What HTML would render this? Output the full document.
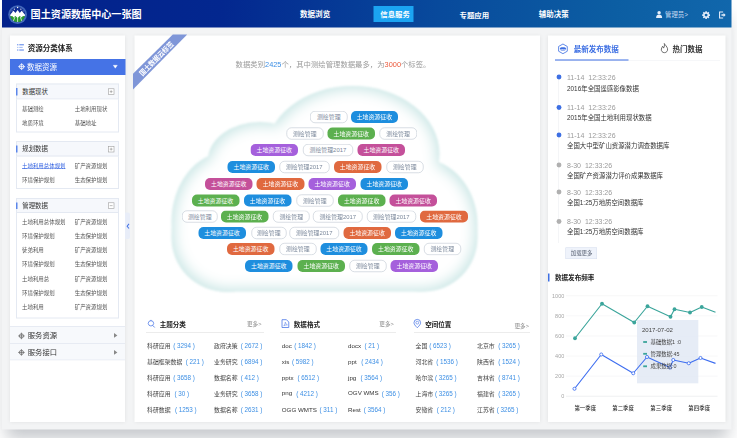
<!DOCTYPE html>
<html lang="zh-CN">
<head>
<meta charset="utf-8">
<title>国土资源数据中心一张图</title>
<style>
html,body{margin:0;padding:0;}
body{width:737px;height:438px;overflow:hidden;background:#fff;position:relative;font-family:"Liberation Sans", "Noto Sans CJK SC", sans-serif;-webkit-text-size-adjust:none;}
.b{position:absolute;box-sizing:border-box;}
.t{position:absolute;white-space:nowrap;display:block;}
svg{position:absolute;overflow:visible;}
#wrap{position:absolute;left:0;top:0;width:1474px;height:876px;transform:scale(0.5);transform-origin:0 0;}
#root{position:absolute;left:0;top:0;width:737px;height:438px;zoom:2;}

.page{background:#f3f4f5;box-shadow:0 13px 16px -4px rgba(40,50,65,.27);}
.hdr{background:linear-gradient(94deg,#03218b 0%,#03278f 30%,#084a9c 60%,#0c5ea3 84%,#1167ac 100%);}
.panel{background:#fff;box-shadow:0 0 4px rgba(0,0,0,.08);}
.tag{position:absolute;box-sizing:border-box;height:12px;line-height:12px;border-radius:5px;font-size:5.9px;color:#fff;text-align:center;white-space:nowrap;}
.tag.o{background:#fff;border:0.5px solid #b3bcc9;color:#7b889b;line-height:11px;}

</style>
</head>
<body>
<div id="wrap"><div id="root">
<div class="b page" style="left:2.00px;top:0.00px;width:729.70px;height:429.50px;"></div><div class="b hdr" style="left:2.00px;top:0.00px;width:729.70px;height:27.50px;"></div><svg style="left:7.9px;top:5px" width="19.2" height="19.2" viewBox="0 0 40 40">
<defs><clipPath id="lc"><circle cx="20" cy="20" r="15.6"/></clipPath></defs>
<circle cx="20" cy="20" r="19.6" fill="#4468ba"/>
<circle cx="20" cy="20" r="15.6" fill="#102c93"/>
<g clip-path="url(#lc)">
<rect x="0" y="21" width="40" height="20" fill="#2b9b2d"/>
<path d="M2 23.5 L11.5 12 L15.5 16.5 L20 10.2 L24.5 16.5 L28.5 12 L38 23.5 L31 23 L28.5 26 L24.5 23 L20 27 L15.5 23 L11.5 26 L9 23 Z" fill="#fff"/>
<path d="M8.5 40 L14.5 25 M20 40 L20 26 M31.5 40 L25.5 25" stroke="#fff" stroke-width="1.5"/>
</g>
<g fill="#fff"><circle cx="20" cy="5.2" r="1.5"/><circle cx="13.2" cy="8.6" r="1.15"/><circle cx="26.8" cy="8.6" r="1.15"/><circle cx="8.6" cy="12.6" r="1"/><circle cx="31.4" cy="12.6" r="1"/></g>
</svg><span class="t " style="top:6.52px;height:16.16px;line-height:16.16px;font-size:10.1px;color:#fff;font-weight:700;left:30.60px;">国土资源数据中心一张图</span><span class="t " style="top:8.46px;height:12.08px;line-height:12.08px;font-size:7.55px;color:#fff;font-weight:700;left:300.00px;">数据浏览</span><div class="b " style="left:373.40px;top:6.00px;width:40.20px;height:16.00px;background:#1ba4f2;"></div><span class="t " style="top:8.98px;height:11.84px;line-height:11.84px;font-size:7.4px;color:#fff;font-weight:700;left:380.30px;">信息服务</span><span class="t " style="top:9.38px;height:11.84px;line-height:11.84px;font-size:7.4px;color:#fff;font-weight:700;left:459.50px;">专题应用</span><span class="t " style="top:9.04px;height:11.92px;line-height:11.92px;font-size:7.45px;color:#fff;font-weight:700;left:538.80px;">辅助决策</span><svg style="left:655.8px;top:11px" width="6.2" height="7" viewBox="0 0 12 14"><circle cx="6" cy="3.6" r="3.4" fill="#e6eefa"/><path d="M0 14 C0 8.5 2.5 7.6 6 7.6 C9.5 7.6 12 8.5 12 14 Z" fill="#e6eefa"/></svg><span class="t " style="top:9.68px;height:10.24px;line-height:10.24px;font-size:6.4px;color:#c9daf2;left:665.00px;">管理员&gt;</span><svg style="left:702px;top:10.9px" width="8.2" height="8.2" viewBox="0 0 24 24"><g fill="#e6eefa"><circle cx="12" cy="12" r="8"/><g id="gt"><rect x="9.6" y="0.5" width="4.8" height="23" rx="1"/></g><rect x="9.6" y="0.5" width="4.8" height="23" rx="1" transform="rotate(45 12 12)"/><rect x="9.6" y="0.5" width="4.8" height="23" rx="1" transform="rotate(90 12 12)"/><rect x="9.6" y="0.5" width="4.8" height="23" rx="1" transform="rotate(135 12 12)"/></g><circle cx="12" cy="12" r="4.3" fill="#1064aa"/></svg><svg style="left:718.8px;top:11.4px" width="6.8" height="7" viewBox="0 0 14 14"><path d="M8.5 1 H1.2 V13 H8.5" fill="none" stroke="#e6eefa" stroke-width="2.2"/><path d="M5 5.6 H9.5 V3 L13.6 7 L9.5 11 V8.4 H5 Z" fill="#e6eefa"/></svg><div class="b panel" style="left:10.00px;top:35.50px;width:115.00px;height:386.50px;"></div><svg style="left:17px;top:44.2px" width="7" height="6.8" viewBox="0 0 14 14"><g fill="#5b86ea"><rect x="0" y="0.5" width="2.6" height="2.2"/><rect x="4.5" y="0.5" width="9.5" height="2.2"/><rect x="0" y="5.9" width="2.6" height="2.2" opacity=".55"/><rect x="4.5" y="5.9" width="7" height="2.2" opacity=".55"/><rect x="0" y="11.3" width="2.6" height="2.2"/><rect x="4.5" y="11.3" width="9.5" height="2.2"/></g></svg><span class="t " style="top:42.60px;height:12.0px;line-height:12.0px;font-size:7.5px;color:#222;font-weight:700;left:27.80px;">资源分类体系</span><div class="b " style="left:10.00px;top:58.80px;width:115.30px;height:16.00px;background:#4573e6;"></div><svg style="left:17.9px;top:63.2px" width="7.3" height="7.3" viewBox="0 0 14 14"><circle cx="7" cy="7" r="4.3" fill="none" stroke="#fff" stroke-width="1.5"/><path d="M7 0.4 V13.6 M0.4 7 H13.6" fill="none" stroke="#fff" stroke-width="1.5"/></svg><span class="t " style="top:61.60px;height:12.0px;line-height:12.0px;font-size:7.5px;color:#fff;left:27.00px;">数据资源</span><svg style="left:113px;top:65.2px" width="4.6" height="3.4" viewBox="0 0 10 7"><path d="M0.6 0.4 H9.4 L5 6.8 Z" fill="#fff" stroke="#fff" stroke-width="0.8" stroke-linejoin="round"/></svg><div class="b " style="left:16.00px;top:83.50px;width:103.00px;height:49.00px;border:1px solid #e4e9f2;background:#fff;"></div><div class="b " style="left:16.00px;top:83.50px;width:103.00px;height:16.00px;border:1px solid #e4e9f2;background:#f6f8fc;"></div><div class="b " style="left:16.00px;top:88.00px;width:1.30px;height:7.50px;background:#5b86ea;"></div><span class="t " style="top:86.68px;height:10.24px;line-height:10.24px;font-size:6.4px;color:#333;left:22.30px;">数据现状</span><svg style="left:108.2px;top:88.60px" width="6.3" height="6.3" viewBox="0 0 11 11"><rect x="0.5" y="0.5" width="10" height="10" fill="#fff" stroke="#999" stroke-width="1"/><path d="M3 5.5 H8 M5.5 3 V8" stroke="#888" stroke-width="1" fill="none"/></svg><span class="t " style="top:104.74px;height:8.72px;line-height:8.72px;font-size:5.45px;color:#555;left:22.00px;">基础测绘</span><span class="t " style="top:104.74px;height:8.72px;line-height:8.72px;font-size:5.45px;color:#555;left:74.70px;">土地利用现状</span><span class="t " style="top:118.74px;height:8.72px;line-height:8.72px;font-size:5.45px;color:#555;left:22.00px;">地质环境</span><span class="t " style="top:118.74px;height:8.72px;line-height:8.72px;font-size:5.45px;color:#555;left:74.70px;">基础地址</span><div class="b " style="left:16.00px;top:141.00px;width:103.00px;height:48.00px;border:1px solid #e4e9f2;background:#fff;"></div><div class="b " style="left:16.00px;top:141.00px;width:103.00px;height:15.50px;border:1px solid #e4e9f2;background:#f6f8fc;"></div><div class="b " style="left:16.00px;top:145.50px;width:1.30px;height:7.00px;background:#5b86ea;"></div><span class="t " style="top:143.93px;height:10.24px;line-height:10.24px;font-size:6.4px;color:#333;left:22.30px;">规划数据</span><svg style="left:108.2px;top:145.85px" width="6.3" height="6.3" viewBox="0 0 11 11"><rect x="0.5" y="0.5" width="10" height="10" fill="#fff" stroke="#999" stroke-width="1"/><path d="M3 5.5 H8 M5.5 3 V8" stroke="#888" stroke-width="1" fill="none"/></svg><span class="t " style="top:161.44px;height:8.72px;line-height:8.72px;font-size:5.45px;color:#2f5fe0;left:22.00px;text-decoration:underline;text-decoration-thickness:0.5px;text-underline-offset:1px;">土地利用总体规划</span><span class="t " style="top:161.44px;height:8.72px;line-height:8.72px;font-size:5.45px;color:#555;left:74.70px;">矿产资源规划</span><span class="t " style="top:175.64px;height:8.72px;line-height:8.72px;font-size:5.45px;color:#555;left:22.00px;">环境保护规划</span><span class="t " style="top:175.64px;height:8.72px;line-height:8.72px;font-size:5.45px;color:#555;left:74.70px;">生态保护规划</span><div class="b " style="left:16.00px;top:198.00px;width:103.00px;height:120.50px;border:1px solid #e4e9f2;background:#fff;"></div><div class="b " style="left:16.00px;top:198.00px;width:103.00px;height:15.00px;border:1px solid #e4e9f2;background:#f6f8fc;"></div><div class="b " style="left:16.00px;top:202.50px;width:1.30px;height:6.50px;background:#5b86ea;"></div><span class="t " style="top:200.68px;height:10.24px;line-height:10.24px;font-size:6.4px;color:#333;left:22.30px;">管理数据</span><svg style="left:108.2px;top:202.60px" width="6.3" height="6.3" viewBox="0 0 11 11"><rect x="0.5" y="0.5" width="10" height="10" fill="#fff" stroke="#999" stroke-width="1"/><path d="M3 5.5 H8" stroke="#888" stroke-width="1" fill="none"/></svg><span class="t " style="top:217.64px;height:8.72px;line-height:8.72px;font-size:5.45px;color:#555;left:22.00px;">土地利用总体规划</span><span class="t " style="top:217.64px;height:8.72px;line-height:8.72px;font-size:5.45px;color:#555;left:74.70px;">矿产资源规划</span><span class="t " style="top:231.89px;height:8.72px;line-height:8.72px;font-size:5.45px;color:#555;left:22.00px;">环境保护规划</span><span class="t " style="top:231.89px;height:8.72px;line-height:8.72px;font-size:5.45px;color:#555;left:74.70px;">生态保护规划</span><span class="t " style="top:246.14px;height:8.72px;line-height:8.72px;font-size:5.45px;color:#555;left:22.00px;">徒弟利用</span><span class="t " style="top:246.14px;height:8.72px;line-height:8.72px;font-size:5.45px;color:#555;left:74.70px;">矿产资源规划</span><span class="t " style="top:260.24px;height:8.72px;line-height:8.72px;font-size:5.45px;color:#555;left:22.00px;">环境保护规划</span><span class="t " style="top:260.24px;height:8.72px;line-height:8.72px;font-size:5.45px;color:#555;left:74.70px;">生态保护规划</span><span class="t " style="top:274.44px;height:8.72px;line-height:8.72px;font-size:5.45px;color:#555;left:22.00px;">土地利用总</span><span class="t " style="top:274.44px;height:8.72px;line-height:8.72px;font-size:5.45px;color:#555;left:74.70px;">矿产资源规划</span><span class="t " style="top:288.64px;height:8.72px;line-height:8.72px;font-size:5.45px;color:#555;left:22.00px;">环境保护规划</span><span class="t " style="top:288.64px;height:8.72px;line-height:8.72px;font-size:5.45px;color:#555;left:74.70px;">生态保护规划</span><span class="t " style="top:302.74px;height:8.72px;line-height:8.72px;font-size:5.45px;color:#555;left:22.00px;">土地利用</span><span class="t " style="top:302.74px;height:8.72px;line-height:8.72px;font-size:5.45px;color:#555;left:74.70px;">矿产资源规划</span><div class="b " style="left:10.00px;top:326.00px;width:115.00px;height:18.00px;background:#f7f9fc;border-top:1px solid #e7ebf3;border-bottom:1px solid #e7ebf3;"></div><svg style="left:18.1px;top:332.40px" width="6.9" height="6.9" viewBox="0 0 14 14"><circle cx="7" cy="7" r="4.3" fill="none" stroke="#666" stroke-width="1.5"/><path d="M7 0.4 V13.6 M0.4 7 H13.6" fill="none" stroke="#666" stroke-width="1.5"/></svg><span class="t " style="top:329.56px;height:11.68px;line-height:11.68px;font-size:7.3px;color:#333;left:27.80px;">服务资源</span><svg style="left:113.8px;top:333.00px" width="3.4" height="4.8" viewBox="0 0 7 10"><path d="M0 0 L7 5 L0 10 Z" fill="#888"/></svg><div class="b " style="left:10.00px;top:343.00px;width:115.00px;height:17.50px;background:#f7f9fc;border-top:1px solid #e7ebf3;border-bottom:1px solid #e7ebf3;"></div><svg style="left:18.1px;top:349.15px" width="6.9" height="6.9" viewBox="0 0 14 14"><circle cx="7" cy="7" r="4.3" fill="none" stroke="#666" stroke-width="1.5"/><path d="M7 0.4 V13.6 M0.4 7 H13.6" fill="none" stroke="#666" stroke-width="1.5"/></svg><span class="t " style="top:346.31px;height:11.68px;line-height:11.68px;font-size:7.3px;color:#333;left:27.80px;">服务接口</span><svg style="left:113.8px;top:349.75px" width="3.4" height="4.8" viewBox="0 0 7 10"><path d="M0 0 L7 5 L0 10 Z" fill="#888"/></svg><div class="b " style="left:125.00px;top:212.60px;width:5.20px;height:26.40px;background:#e8edf8;border-radius:0 2px 2px 0;"></div><svg style="left:126.3px;top:223.6px" width="2.9" height="5.4" viewBox="0 0 5 10"><path d="M4.4 0.8 L1 5 L4.4 9.2" fill="none" stroke="#4573e6" stroke-width="1.9"/></svg><div class="b panel" style="left:134.40px;top:35.50px;width:405.60px;height:386.50px;"></div><svg style="left:0;top:0" width="737" height="438" viewBox="0 0 737 438">
<path d="M133 73.8 L172.8 34.5 L187.2 34.5 L133 89.6 Z" fill="#7f96d8"/>
<text transform="translate(158.3,60.5) rotate(-45) scale(0.92,1.05)" text-anchor="middle" font-size="7" font-weight="700" fill="#fff" font-family='"Liberation Sans","Noto Sans CJK SC",sans-serif'>国土数据云标签</text>
</svg><span class="t " style="top:58.70px;height:11.79px;line-height:11.79px;font-size:7.37px;color:#9a9a9a;left:235.60px;">数据类别<span style="color:#3d8fe4">2425</span>个，其中测绘管理数据最多，为<span style="color:#ec5a3c">3000</span>个标签。</span><svg style="left:0;top:0" width="737" height="438" viewBox="0 0 737 438">
<defs>
<filter id="cb1" x="-10%" y="-10%" width="120%" height="120%"><feGaussianBlur stdDeviation="1.1"/></filter>
<filter id="cb2" x="-20%" y="-20%" width="140%" height="140%"><feMorphology operator="erode" radius="3"/><feGaussianBlur stdDeviation="7"/></filter>
<g id="cl">
<ellipse cx="352.5" cy="154" rx="87" ry="68"/>
<ellipse cx="260" cy="160" rx="52" ry="38"/>
<ellipse cx="227.5" cy="222" rx="56" ry="70"/>
<ellipse cx="420" cy="225" rx="57.5" ry="66.5"/>
<rect x="171.5" y="180" width="306" height="111.5" rx="54" ry="54"/>
<rect x="227" y="170" width="193" height="100"/>
</g>
</defs>
<use href="#cl" fill="#c8e5e4" filter="url(#cb1)"/>
<use href="#cl" fill="#ffffff" filter="url(#cb2)"/>
</svg><span class="tag o" style="left:310.00px;top:111.20px;width:37.50px;">测绘管理</span><span class="tag" style="left:350.75px;top:111.20px;width:47.25px;background:#1e8ede;">土地资源征收</span><span class="tag o" style="left:286.25px;top:127.50px;width:37.00px;">测绘管理</span><span class="tag" style="left:327.50px;top:127.50px;width:47.50px;background:#5cb04f;">土地资源征收</span><span class="tag o" style="left:379.50px;top:127.50px;width:37.25px;">测绘管理</span><span class="tag" style="left:250.50px;top:144.10px;width:47.50px;background:#a560dc;">土地资源征收</span><span class="tag o" style="left:303.00px;top:144.10px;width:49.75px;">测绘管理2017</span><span class="tag" style="left:357.50px;top:144.10px;width:47.50px;background:#c4509a;">土地资源征收</span><span class="tag" style="left:227.50px;top:161.00px;width:47.50px;background:#1e8ede;">土地资源征收</span><span class="tag o" style="left:279.25px;top:161.00px;width:50.00px;">测绘管理2017</span><span class="tag" style="left:333.75px;top:161.00px;width:47.50px;background:#e0693f;">土地资源征收</span><span class="tag o" style="left:386.25px;top:161.00px;width:37.00px;">测绘管理</span><span class="tag" style="left:205.00px;top:178.00px;width:47.50px;background:#c4509a;">土地资源征收</span><span class="tag" style="left:256.50px;top:178.00px;width:47.75px;background:#e0693f;">土地资源征收</span><span class="tag" style="left:308.50px;top:178.00px;width:47.25px;background:#a560dc;">土地资源征收</span><span class="tag" style="left:360.50px;top:178.00px;width:47.50px;background:#1e8ede;">土地资源征收</span><span class="tag" style="left:191.75px;top:194.50px;width:47.50px;background:#5cb04f;">土地资源征收</span><span class="tag" style="left:243.75px;top:194.50px;width:47.50px;background:#1e8ede;">土地资源征收</span><span class="tag o" style="left:296.25px;top:194.50px;width:37.00px;">测绘管理</span><span class="tag" style="left:338.00px;top:194.50px;width:47.25px;background:#5cb04f;">土地资源征收</span><span class="tag" style="left:389.50px;top:194.50px;width:47.25px;background:#c4509a;">土地资源征收</span><span class="tag o" style="left:182.00px;top:210.50px;width:35.50px;">测绘管理</span><span class="tag" style="left:220.75px;top:210.50px;width:47.50px;background:#5cb04f;">土地资源征收</span><span class="tag o" style="left:273.00px;top:210.50px;width:36.50px;">测绘管理</span><span class="tag o" style="left:313.00px;top:210.50px;width:49.50px;">测绘管理2017</span><span class="tag o" style="left:366.75px;top:210.50px;width:49.00px;">测绘管理2017</span><span class="tag" style="left:420.00px;top:210.50px;width:48.00px;background:#e0693f;">土地资源征收</span><span class="tag" style="left:198.25px;top:226.80px;width:47.50px;background:#1e8ede;">土地资源征收</span><span class="tag o" style="left:251.25px;top:226.80px;width:35.00px;">测绘管理</span><span class="tag o" style="left:289.50px;top:226.80px;width:49.50px;">测绘管理2017</span><span class="tag" style="left:343.50px;top:226.80px;width:47.25px;background:#e0693f;">土地资源征收</span><span class="tag" style="left:395.00px;top:226.80px;width:47.50px;background:#1e8ede;">土地资源征收</span><span class="tag" style="left:227.00px;top:243.00px;width:47.25px;background:#e0693f;">土地资源征收</span><span class="tag o" style="left:279.50px;top:243.00px;width:36.75px;">测绘管理</span><span class="tag" style="left:320.60px;top:243.00px;width:46.90px;background:#1e8ede;">土地资源征收</span><span class="tag" style="left:372.00px;top:243.00px;width:47.50px;background:#5cb04f;">土地资源征收</span><span class="tag o" style="left:423.75px;top:243.00px;width:37.00px;">测绘管理</span><span class="tag" style="left:245.00px;top:260.00px;width:47.50px;background:#1e8ede;">土地资源征收</span><span class="tag" style="left:297.50px;top:260.00px;width:47.50px;background:#5cb04f;">土地资源征收</span><span class="tag o" style="left:349.25px;top:260.00px;width:37.00px;">测绘管理</span><span class="tag" style="left:390.50px;top:260.00px;width:47.50px;background:#a560dc;">土地资源征收</span><svg style="left:147.2px;top:319.3px" width="8.4" height="8.6" viewBox="0 0 17 17"><path d="M8 2.2 L12 3.6 L13.6 7.6 L12 11.4 L8 13 L4 11.4 L2.4 7.6 L4 3.6 Z" fill="none" stroke="#4573e6" stroke-width="1.5" stroke-linejoin="round"/><path d="M11.6 11.8 L15.6 16 M8 0.6 V2.6" stroke="#4573e6" stroke-width="1.6" fill="none"/></svg><span class="t " style="top:319.76px;height:10.48px;line-height:10.48px;font-size:6.55px;color:#222;font-weight:700;left:159.70px;">主题分类</span><span class="t " style="top:320.12px;height:8.96px;line-height:8.96px;font-size:5.6px;color:#8a8a8a;left:247.00px;">更多&gt;</span><div class="b " style="left:146.00px;top:332.20px;width:118.00px;height:0.60px;background:#ececec;"></div><span class="t " style="top:341.28px;height:9.44px;line-height:9.44px;font-size:5.9px;color:#444;left:147.00px;">科研应用</span><span class="t " style="top:340.96px;height:10.08px;line-height:10.08px;font-size:6.3px;color:#3d8fe4;left:173.20px;">( 3294 )</span><span class="t " style="top:357.18px;height:9.44px;line-height:9.44px;font-size:5.9px;color:#444;left:147.00px;">基础框架数据</span><span class="t " style="top:356.86px;height:10.08px;line-height:10.08px;font-size:6.3px;color:#3d8fe4;left:185.70px;">( 221 )</span><span class="t " style="top:373.18px;height:9.44px;line-height:9.44px;font-size:5.9px;color:#444;left:147.00px;">科研应用</span><span class="t " style="top:372.86px;height:10.08px;line-height:10.08px;font-size:6.3px;color:#3d8fe4;left:173.20px;">( 3658 )</span><span class="t " style="top:388.98px;height:9.44px;line-height:9.44px;font-size:5.9px;color:#444;left:147.00px;">科研应用</span><span class="t " style="top:388.66px;height:10.08px;line-height:10.08px;font-size:6.3px;color:#3d8fe4;left:174.50px;">( 30 )</span><span class="t " style="top:405.18px;height:9.44px;line-height:9.44px;font-size:5.9px;color:#444;left:147.00px;">科研数据</span><span class="t " style="top:404.86px;height:10.08px;line-height:10.08px;font-size:6.3px;color:#3d8fe4;left:175.00px;">( 1253 )</span><span class="t " style="top:341.28px;height:9.44px;line-height:9.44px;font-size:5.9px;color:#444;left:214.00px;">政府决策</span><span class="t " style="top:340.96px;height:10.08px;line-height:10.08px;font-size:6.3px;color:#3d8fe4;left:240.70px;">( 2672 )</span><span class="t " style="top:357.18px;height:9.44px;line-height:9.44px;font-size:5.9px;color:#444;left:214.00px;">业务研究</span><span class="t " style="top:356.86px;height:10.08px;line-height:10.08px;font-size:6.3px;color:#3d8fe4;left:240.70px;">( 6894 )</span><span class="t " style="top:373.18px;height:9.44px;line-height:9.44px;font-size:5.9px;color:#444;left:214.00px;">数据名称</span><span class="t " style="top:372.86px;height:10.08px;line-height:10.08px;font-size:6.3px;color:#3d8fe4;left:240.70px;">( 412 )</span><span class="t " style="top:388.98px;height:9.44px;line-height:9.44px;font-size:5.9px;color:#444;left:214.00px;">业务研究</span><span class="t " style="top:388.66px;height:10.08px;line-height:10.08px;font-size:6.3px;color:#3d8fe4;left:240.70px;">( 3658 )</span><span class="t " style="top:405.18px;height:9.44px;line-height:9.44px;font-size:5.9px;color:#444;left:214.00px;">数据名称</span><span class="t " style="top:404.86px;height:10.08px;line-height:10.08px;font-size:6.3px;color:#3d8fe4;left:240.70px;">( 2631 )</span><svg style="left:281.4px;top:318.9px" width="7.8" height="9.2" viewBox="0 0 15 17"><path d="M1 1 H9.5 L14 5.5 V16 H1 Z" fill="none" stroke="#4573e6" stroke-width="1.5"/><path d="M4.5 12.5 C6.5 10 7.5 7.5 7.2 5.8 C9 9.5 10 10.5 11.2 11 C8.5 11 6.5 11.5 4.5 12.5 Z" fill="none" stroke="#4573e6" stroke-width="1"/></svg><span class="t " style="top:319.76px;height:10.48px;line-height:10.48px;font-size:6.55px;color:#222;font-weight:700;left:293.80px;">数据格式</span><span class="t " style="top:320.12px;height:8.96px;line-height:8.96px;font-size:5.6px;color:#8a8a8a;left:379.30px;">更多&gt;</span><div class="b " style="left:280.00px;top:332.20px;width:116.00px;height:0.60px;background:#ececec;"></div><span class="t " style="top:341.04px;height:9.92px;line-height:9.92px;font-size:6.2px;color:#333;left:281.80px;">doc</span><span class="t " style="top:340.96px;height:10.08px;line-height:10.08px;font-size:6.3px;color:#3d8fe4;left:294.20px;">( 1842 )</span><span class="t " style="top:356.94px;height:9.92px;line-height:9.92px;font-size:6.2px;color:#333;left:281.80px;">xis</span><span class="t " style="top:356.86px;height:10.08px;line-height:10.08px;font-size:6.3px;color:#3d8fe4;left:292.00px;">( 5982 )</span><span class="t " style="top:372.94px;height:9.92px;line-height:9.92px;font-size:6.2px;color:#333;left:281.80px;">pptx</span><span class="t " style="top:372.86px;height:10.08px;line-height:10.08px;font-size:6.3px;color:#3d8fe4;left:297.50px;">( 6512 )</span><span class="t " style="top:388.74px;height:9.92px;line-height:9.92px;font-size:6.2px;color:#333;left:281.80px;">png</span><span class="t " style="top:388.66px;height:10.08px;line-height:10.08px;font-size:6.3px;color:#3d8fe4;left:296.20px;">( 4212 )</span><span class="t " style="top:404.94px;height:9.92px;line-height:9.92px;font-size:6.2px;color:#333;left:281.80px;">OGG WMTS</span><span class="t " style="top:404.86px;height:10.08px;line-height:10.08px;font-size:6.3px;color:#3d8fe4;left:319.50px;">( 311 )</span><span class="t " style="top:341.04px;height:9.92px;line-height:9.92px;font-size:6.2px;color:#333;left:348.00px;">docx</span><span class="t " style="top:340.96px;height:10.08px;line-height:10.08px;font-size:6.3px;color:#3d8fe4;left:364.50px;">( 21 )</span><span class="t " style="top:356.94px;height:9.92px;line-height:9.92px;font-size:6.2px;color:#333;left:348.00px;">ppt</span><span class="t " style="top:356.86px;height:10.08px;line-height:10.08px;font-size:6.3px;color:#3d8fe4;left:361.20px;">( 2434 )</span><span class="t " style="top:372.94px;height:9.92px;line-height:9.92px;font-size:6.2px;color:#333;left:348.00px;">jpg</span><span class="t " style="top:372.86px;height:10.08px;line-height:10.08px;font-size:6.3px;color:#3d8fe4;left:360.50px;">( 3564 )</span><span class="t " style="top:388.74px;height:9.92px;line-height:9.92px;font-size:6.2px;color:#333;left:348.00px;">OGV WMS</span><span class="t " style="top:388.66px;height:10.08px;line-height:10.08px;font-size:6.3px;color:#3d8fe4;left:381.70px;">( 356 )</span><span class="t " style="top:404.94px;height:9.92px;line-height:9.92px;font-size:6.2px;color:#333;left:348.00px;">Rest</span><span class="t " style="top:404.86px;height:10.08px;line-height:10.08px;font-size:6.3px;color:#3d8fe4;left:363.70px;">( 3564 )</span><svg style="left:413.4px;top:319.2px" width="7.6" height="9.4" viewBox="0 0 15 18"><path d="M7.5 17 C3 12.5 1 10 1 7 A6.5 6.5 0 0 1 14 7 C14 10 12 12.5 7.5 17 Z" fill="none" stroke="#4573e6" stroke-width="1.5"/><circle cx="7.5" cy="7" r="2.8" fill="none" stroke="#4573e6" stroke-width="1.2"/></svg><span class="t " style="top:319.76px;height:10.48px;line-height:10.48px;font-size:6.55px;color:#222;font-weight:700;left:425.20px;">空间位置</span><span class="t " style="top:321.32px;height:8.96px;line-height:8.96px;font-size:5.6px;color:#8a8a8a;left:514.50px;">更多&gt;</span><div class="b " style="left:413.80px;top:332.20px;width:116.20px;height:0.60px;background:#ececec;"></div><span class="t " style="top:341.28px;height:9.44px;line-height:9.44px;font-size:5.9px;color:#444;left:415.50px;">全国</span><span class="t " style="top:340.96px;height:10.08px;line-height:10.08px;font-size:6.3px;color:#3d8fe4;left:429.20px;">( 6523 )</span><span class="t " style="top:357.18px;height:9.44px;line-height:9.44px;font-size:5.9px;color:#444;left:415.50px;">河北省</span><span class="t " style="top:356.86px;height:10.08px;line-height:10.08px;font-size:6.3px;color:#3d8fe4;left:436.20px;">( 1536 )</span><span class="t " style="top:373.18px;height:9.44px;line-height:9.44px;font-size:5.9px;color:#444;left:415.50px;">哈尔滨</span><span class="t " style="top:372.86px;height:10.08px;line-height:10.08px;font-size:6.3px;color:#3d8fe4;left:435.00px;">( 3265 )</span><span class="t " style="top:388.98px;height:9.44px;line-height:9.44px;font-size:5.9px;color:#444;left:415.50px;">上海市</span><span class="t " style="top:388.66px;height:10.08px;line-height:10.08px;font-size:6.3px;color:#3d8fe4;left:435.00px;">( 3265 )</span><span class="t " style="top:405.18px;height:9.44px;line-height:9.44px;font-size:5.9px;color:#444;left:415.50px;">安徽省</span><span class="t " style="top:404.86px;height:10.08px;line-height:10.08px;font-size:6.3px;color:#3d8fe4;left:436.70px;">( 212 )</span><span class="t " style="top:341.28px;height:9.44px;line-height:9.44px;font-size:5.9px;color:#444;left:477.00px;">北京市</span><span class="t " style="top:340.96px;height:10.08px;line-height:10.08px;font-size:6.3px;color:#3d8fe4;left:498.20px;">( 3265 )</span><span class="t " style="top:357.18px;height:9.44px;line-height:9.44px;font-size:5.9px;color:#444;left:477.00px;">陕西省</span><span class="t " style="top:356.86px;height:10.08px;line-height:10.08px;font-size:6.3px;color:#3d8fe4;left:498.20px;">( 1524 )</span><span class="t " style="top:373.18px;height:9.44px;line-height:9.44px;font-size:5.9px;color:#444;left:477.00px;">吉林省</span><span class="t " style="top:372.86px;height:10.08px;line-height:10.08px;font-size:6.3px;color:#3d8fe4;left:498.20px;">( 8741 )</span><span class="t " style="top:388.98px;height:9.44px;line-height:9.44px;font-size:5.9px;color:#444;left:477.00px;">福建省</span><span class="t " style="top:388.66px;height:10.08px;line-height:10.08px;font-size:6.3px;color:#3d8fe4;left:498.20px;">( 3265 )</span><span class="t " style="top:405.18px;height:9.44px;line-height:9.44px;font-size:5.9px;color:#444;left:477.00px;">江苏省</span><span class="t " style="top:404.86px;height:10.08px;line-height:10.08px;font-size:6.3px;color:#3d8fe4;left:496.70px;">( 3265 )</span><div class="b panel" style="left:548.20px;top:35.50px;width:177.10px;height:386.50px;"></div><svg style="left:558.2px;top:43.3px" width="9.9" height="10.7" viewBox="0 0 19 21"><path d="M9.5 1 L18 5.8 V15.2 L9.5 20 L1 15.2 V5.8 Z" fill="none" stroke="#3d6fe3" stroke-width="1.6"/><rect x="3.4" y="7.2" width="12.2" height="6.6" rx="3.3" fill="#3d6fe3"/><text x="9.5" y="12.2" font-size="4.6" font-weight="700" fill="#fff" text-anchor="middle" font-family='"Liberation Sans",sans-serif'>NEW</text></svg><span class="t " style="top:43.50px;height:12.0px;line-height:12.0px;font-size:7.5px;color:#3d6fe3;font-weight:700;left:573.70px;">最新发布数据</span><svg style="left:660.4px;top:43.1px" width="7.9" height="10.2" viewBox="0 0 15 20"><path d="M7.2 1 C8.6 4 12.6 6.6 13.6 11.2 C14.4 15.6 11.4 19 7.5 19 C3.6 19 0.8 15.8 1.4 11.8 C1.8 9.4 3.2 8.4 3.8 6.4 C5 7.6 5.4 8.6 5.6 10 C7.4 7.6 8 4.4 7.2 1 Z" fill="none" stroke="#444" stroke-width="1.5" stroke-linejoin="round"/></svg><span class="t " style="top:43.50px;height:12.0px;line-height:12.0px;font-size:7.5px;color:#333;font-weight:700;left:672.50px;">热门数据</span><div class="b " style="left:555.00px;top:59.80px;width:165.00px;height:0.60px;background:#eceef2;"></div><div class="b " style="left:555.00px;top:59.50px;width:73.30px;height:1.20px;background:#3d6fe3;"></div><div class="b " style="left:558.50px;top:77.00px;width:0.60px;height:166.00px;background:#e8eaee;"></div><svg style="left:556px;top:74.00px" width="6" height="6" viewBox="0 0 6 6"><circle cx="3" cy="3" r="2.45" fill="#3d6fe3"/></svg><span class="t " style="top:71.50px;height:11.2px;line-height:11.2px;font-size:7px;color:#9a9a9a;left:567.00px;">11-14&nbsp; 12:33:26</span><span class="t " style="top:83.28px;height:10.24px;line-height:10.24px;font-size:6.4px;color:#333;left:567.00px;">2016年全国遥感影像数据</span><svg style="left:556px;top:104.50px" width="6" height="6" viewBox="0 0 6 6"><circle cx="3" cy="3" r="2.45" fill="#3d6fe3"/></svg><span class="t " style="top:102.00px;height:11.2px;line-height:11.2px;font-size:7px;color:#9a9a9a;left:567.00px;">11-14&nbsp; 12:33:26</span><span class="t " style="top:112.88px;height:10.24px;line-height:10.24px;font-size:6.4px;color:#333;left:567.00px;">2015年全国土地利用现状数据</span><svg style="left:556px;top:132.00px" width="6" height="6" viewBox="0 0 6 6"><circle cx="3" cy="3" r="2.45" fill="#3d6fe3"/></svg><span class="t " style="top:129.50px;height:11.2px;line-height:11.2px;font-size:7px;color:#9a9a9a;left:567.00px;">11-14&nbsp; 12:33:26</span><span class="t " style="top:141.18px;height:10.24px;line-height:10.24px;font-size:6.4px;color:#333;left:567.00px;">全国大中型矿山资源潜力调查数据库</span><svg style="left:556px;top:162.00px" width="6" height="6" viewBox="0 0 6 6"><circle cx="3" cy="3" r="2.45" fill="#b0b0b0"/></svg><span class="t " style="top:159.50px;height:11.2px;line-height:11.2px;font-size:7px;color:#9a9a9a;left:567.00px;">8-30&nbsp; 12:33:26</span><span class="t " style="top:171.08px;height:10.24px;line-height:10.24px;font-size:6.4px;color:#333;left:567.00px;">全国矿产资源潜力评价成果数据库</span><svg style="left:556px;top:189.00px" width="6" height="6" viewBox="0 0 6 6"><circle cx="3" cy="3" r="2.45" fill="#b0b0b0"/></svg><span class="t " style="top:186.50px;height:11.2px;line-height:11.2px;font-size:7px;color:#9a9a9a;left:567.00px;">8-30&nbsp; 12:33:26</span><span class="t " style="top:197.88px;height:10.24px;line-height:10.24px;font-size:6.4px;color:#333;left:567.00px;">全国1:25万地质空间数据库</span><svg style="left:556px;top:218.30px" width="6" height="6" viewBox="0 0 6 6"><circle cx="3" cy="3" r="2.45" fill="#b0b0b0"/></svg><span class="t " style="top:215.80px;height:11.2px;line-height:11.2px;font-size:7px;color:#9a9a9a;left:567.00px;">8-30&nbsp; 12:33:26</span><span class="t " style="top:226.88px;height:10.24px;line-height:10.24px;font-size:6.4px;color:#333;left:567.00px;">全国1:25万地质空间数据库</span><div class="b " style="left:565.50px;top:247.50px;width:31.70px;height:11.30px;background:#eff3fb;border:0.6px solid #d6deee;"></div><span class="t " style="top:248.84px;height:8.72px;line-height:8.72px;font-size:5.45px;color:#555e70;left:570.70px;">加载更多</span><div class="b " style="left:548.20px;top:273.60px;width:1.20px;height:7.80px;background:#3d6fe3;"></div><span class="t " style="top:272.36px;height:10.48px;line-height:10.48px;font-size:6.55px;color:#222;font-weight:700;left:555.00px;">数据发布频率</span><svg style="left:0;top:0" width="737" height="438" viewBox="0 0 737 438"><path d="M566 396.25 H717.5" stroke="#e4e6ea" stroke-width="0.6" fill="none"/><text x="564.3" y="398.15" font-size="5.5" fill="#a6a6a6" text-anchor="end" font-family='"Liberation Sans",sans-serif'>0</text><path d="M566 376.15 H717.5" stroke="#f1f2f4" stroke-width="0.6" fill="none"/><text x="564.3" y="378.05" font-size="5.5" fill="#a6a6a6" text-anchor="end" font-family='"Liberation Sans",sans-serif'>200</text><path d="M566 356.05 H717.5" stroke="#f1f2f4" stroke-width="0.6" fill="none"/><text x="564.3" y="357.95" font-size="5.5" fill="#a6a6a6" text-anchor="end" font-family='"Liberation Sans",sans-serif'>400</text><path d="M566 335.95 H717.5" stroke="#f1f2f4" stroke-width="0.6" fill="none"/><text x="564.3" y="337.85" font-size="5.5" fill="#a6a6a6" text-anchor="end" font-family='"Liberation Sans",sans-serif'>600</text><path d="M566 315.85 H717.5" stroke="#f1f2f4" stroke-width="0.6" fill="none"/><text x="564.3" y="317.75" font-size="5.5" fill="#a6a6a6" text-anchor="end" font-family='"Liberation Sans",sans-serif'>800</text><path d="M566 295.75 H717.5" stroke="#f1f2f4" stroke-width="0.6" fill="none"/><text x="564.3" y="297.65" font-size="5.5" fill="#a6a6a6" text-anchor="end" font-family='"Liberation Sans",sans-serif'>1000</text><rect x="637" y="320" width="61.3" height="63.3" fill="#e2e9f5" opacity="0.88"/><polyline points="575,338.25 602,303.75 634.25,322.5 647.5,306.25 670.5,316.75 674.5,309.25 690,312.5 701.75,307 715.5,312.2" fill="none" stroke="#3ba59b" stroke-width="1.15" stroke-linejoin="round"/><circle cx="575" cy="338.25" r="1.9" fill="#3ba59b"/><circle cx="602" cy="303.75" r="1.9" fill="#3ba59b"/><circle cx="634.25" cy="322.5" r="1.9" fill="#3ba59b"/><circle cx="647.5" cy="306.25" r="1.9" fill="#3ba59b"/><circle cx="670.5" cy="316.75" r="1.9" fill="#3ba59b"/><circle cx="674.5" cy="309.25" r="1.9" fill="#3ba59b"/><circle cx="690" cy="312.5" r="1.9" fill="#3ba59b"/><circle cx="701.75" cy="307" r="1.9" fill="#3ba59b"/><polyline points="574.5,388.75 601.25,354.5 633.25,373.25 647,357 670,367.5 673.25,360 688.75,363.25 700.5,358 715.5,363.4" fill="none" stroke="#3f6ff0" stroke-width="1.15" stroke-linejoin="round"/><circle cx="574.5" cy="388.75" r="1.55" fill="#fff" stroke="#3f6ff0" stroke-width="0.85"/><circle cx="601.25" cy="354.5" r="1.55" fill="#fff" stroke="#3f6ff0" stroke-width="0.85"/><circle cx="633.25" cy="373.25" r="1.55" fill="#fff" stroke="#3f6ff0" stroke-width="0.85"/><circle cx="647" cy="357" r="1.55" fill="#fff" stroke="#3f6ff0" stroke-width="0.85"/><circle cx="670" cy="367.5" r="1.55" fill="#fff" stroke="#3f6ff0" stroke-width="0.85"/><circle cx="673.25" cy="360" r="1.55" fill="#fff" stroke="#3f6ff0" stroke-width="0.85"/><circle cx="688.75" cy="363.25" r="1.55" fill="#fff" stroke="#3f6ff0" stroke-width="0.85"/><circle cx="700.5" cy="358" r="1.55" fill="#fff" stroke="#3f6ff0" stroke-width="0.85"/><rect x="643.2" y="341.1" width="3.8" height="1.8" fill="#3ba59b"/><rect x="643.2" y="352.90000000000003" width="3.8" height="1.8" fill="#3ba59b"/><rect x="643.2" y="365.40000000000003" width="3.8" height="1.8" fill="#3ba59b"/></svg><span class="t " style="top:324.86px;height:9.68px;line-height:9.68px;font-size:6.05px;color:#444;left:642.00px;">2017-07-02</span><span class="t " style="top:337.68px;height:8.64px;line-height:8.64px;font-size:5.4px;color:#444;left:650.50px;">基础数据1 :0</span><span class="t " style="top:349.48px;height:8.64px;line-height:8.64px;font-size:5.4px;color:#444;left:650.50px;">管理数据:45</span><span class="t " style="top:361.98px;height:8.64px;line-height:8.64px;font-size:5.4px;color:#444;left:650.50px;">成果数据:0</span><span class="t " style="top:403.94px;height:8.72px;line-height:8.72px;font-size:5.45px;color:#333;font-weight:500;left:570.30px;width:30px;text-align:center;">第一季度</span><span class="t " style="top:403.94px;height:8.72px;line-height:8.72px;font-size:5.45px;color:#333;font-weight:500;left:608.10px;width:30px;text-align:center;">第二季度</span><span class="t " style="top:403.94px;height:8.72px;line-height:8.72px;font-size:5.45px;color:#333;font-weight:500;left:646.20px;width:30px;text-align:center;">第三季度</span><span class="t " style="top:403.94px;height:8.72px;line-height:8.72px;font-size:5.45px;color:#333;font-weight:500;left:684.20px;width:30px;text-align:center;">第四季度</span>
</div></div>
</body>
</html>
